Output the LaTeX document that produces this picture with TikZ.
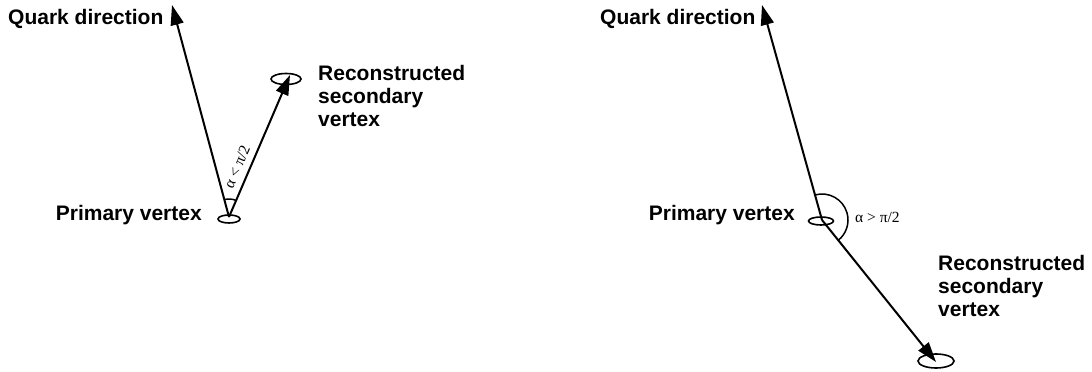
\documentclass[tikz,border=0pt]{standalone}
\usepackage{fontspec}
\setmainfont{Liberation Sans}
\newfontfamily\greekfont{Liberation Serif}
\usetikzlibrary{arrows.meta,shapes.geometric}
\tikzset{
  lbl/.style={inner sep=0pt, font=\fontsize{21}{23}\selectfont\bfseries},
  anglbl/.style={inner sep=0pt, font=\greekfont\fontsize{15.5}{17}\selectfont},
  vtx/.style={ellipse, draw, line width=1.6pt, inner sep=0pt},
  track/.style={line width=2pt, -{Triangle[length=20pt,width=13pt]}},
  angarc/.style={line width=1.5pt}
}
\begin{document}
\begin{tikzpicture}[x=1pt,y=1pt]
\useasboundingbox (0,0) rectangle (1092,372);
% ---------- left panel ----------
\node[vtx, minimum width=22pt, minimum height=8pt] (pv1) at (229,153) {};
\node[vtx, minimum width=30pt, minimum height=11pt] (sv1) at (286,293) {};
\coordinate (v1) at (229,155);
\coordinate (q1) at (172,367);
\coordinate (s1) at (290,297);
\draw[track] (v1) -- (q1);
\draw[track] (v1) -- (s1);
\draw[angarc] ([shift={(66.7:18)}]v1) arc[start angle=66.7, end angle=105, radius=18];
\node[anglbl, rotate=66.7] (a1) at (237,205) {α < π/2};
\node[lbl, anchor=base west] (qd1) at (8,347) {Quark direction};
\node[lbl, anchor=base east] (pl1) at (202,151) {Primary vertex};
\node[lbl, anchor=base west] (sl1) at (318,291) {\vtop{\hbox{Reconstructed}\hbox{secondary}\hbox{vertex}}};
% ---------- right panel ----------
\node[vtx, minimum width=25pt, minimum height=8pt] (pv2) at (821,151) {};
\node[vtx, minimum width=36pt, minimum height=14pt] (sv2) at (936,11) {};
\coordinate (v2) at (822,152);
\coordinate (q2) at (762,367);
\coordinate (s2) at (936,10);
\draw[track] (v2) -- (q2);
\draw[track] (v2) -- (s2);
\draw[angarc] ([shift={(105.6:26)}]v2) arc[start angle=105.6, end angle=-51.2, radius=26];
\node[anglbl, anchor=west] (a2) at (855,155) {α > π/2};
\node[lbl, anchor=base west] (qd2) at (600,347) {Quark direction};
\node[lbl, anchor=base east] (pl2) at (795,151) {Primary vertex};
\node[lbl, anchor=base west] (sl2) at (938,101) {\vtop{\hbox{Reconstructed}\hbox{secondary}\hbox{vertex}}};
\end{tikzpicture}
\end{document}
